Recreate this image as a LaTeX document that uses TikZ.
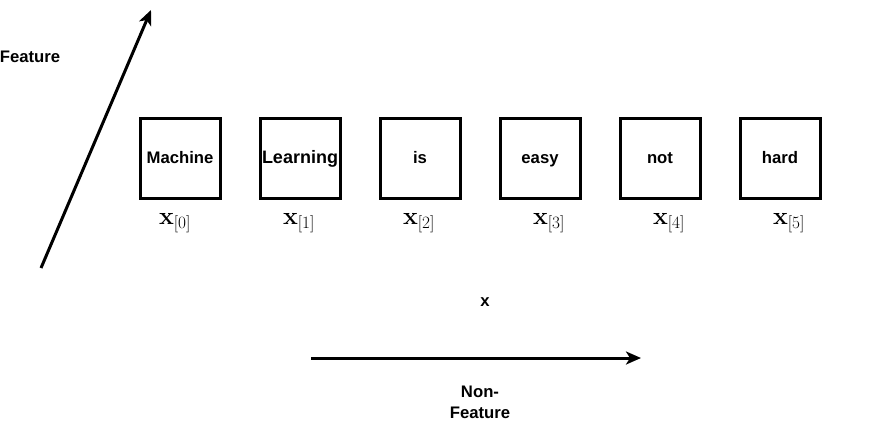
\documentclass[tikz,border=0pt]{standalone}
\usepackage[no-math]{fontspec}
\setmainfont{Liberation Sans}
\usetikzlibrary{arrows.meta}
\tikzset{
  wordbox/.style={draw=black, line width=3pt, minimum width=80pt, minimum height=80pt, inner sep=0pt, text height=12pt, text depth=1.5pt, font=\fontsize{16.7}{19}\selectfont\bfseries},
  idx/.style={inner sep=0pt, font=\fontsize{23}{27}\selectfont},
  lbl/.style={inner sep=0pt, align=center, font=\fontsize{16.7}{21}\selectfont\bfseries},
  axis/.style={line width=3pt, -{Stealth[length=15pt,width=13pt,inset=4pt]}}
}
\begin{document}
\begin{tikzpicture}[x=1pt,y=-1pt]
\useasboundingbox (0,0) rectangle (891,424);
\node[wordbox] (b0) at (180,158) {Machine};
\node[wordbox, font=\fontsize{18}{20}\selectfont\bfseries] (b1) at (300,158) {Learning};
\node[wordbox] (b2) at (420,158) {is};
\node[wordbox] (b3) at (540,158) {easy};
\node[wordbox] (b4) at (660,158) {not};
\node[wordbox] (b5) at (780,158) {hard};
\node[idx] (l0) at (175,223) {$\mathbf{x}_{[0]}$};
\node[idx] (l1) at (299,223) {$\mathbf{x}_{[1]}$};
\node[idx] (l2) at (419,223) {$\mathbf{x}_{[2]}$};
\node[idx] (l3) at (549,223) {$\mathbf{x}_{[3]}$};
\node[idx] (l4) at (669,223) {$\mathbf{x}_{[4]}$};
\node[idx] (l5) at (789,223) {$\mathbf{x}_{[5]}$};
\node[lbl] (feat) at (30,57) {Feature};
\node[lbl] (xl) at (485,302) {x};
\node[lbl] (nonfeat) at (480,402) {Non-\\Feature};
\coordinate (fa) at (41,268);
\coordinate (fb) at (151,10);
\coordinate (na) at (311,358);
\coordinate (nb) at (641,358);
\draw[axis] (fa) -- (fb);
\draw[axis] (na) -- (nb);
\end{tikzpicture}
\end{document}
